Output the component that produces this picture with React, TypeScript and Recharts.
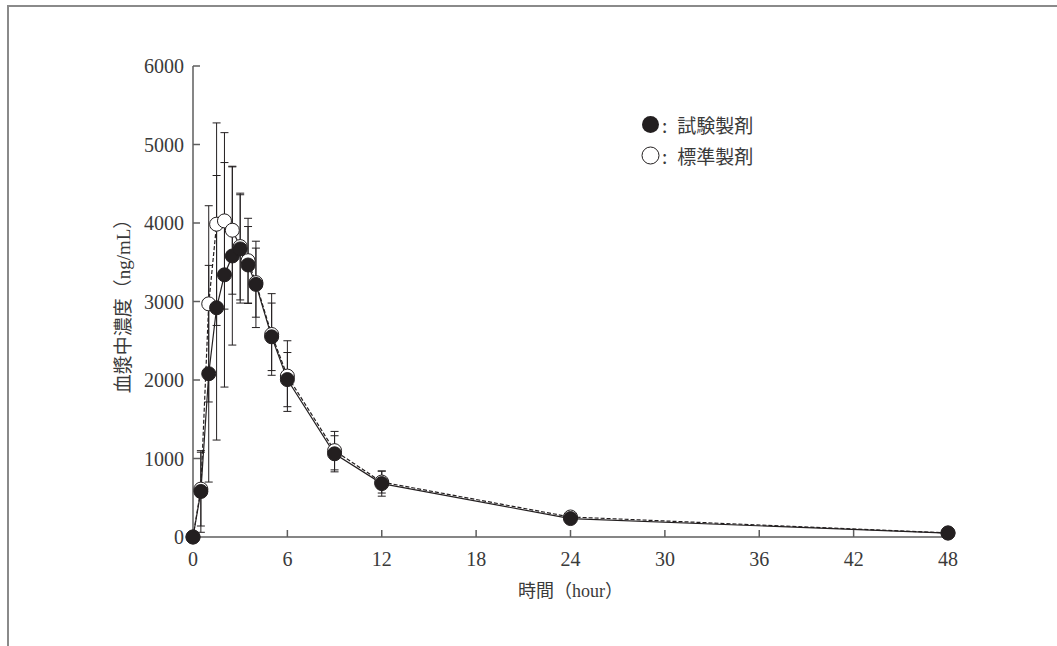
import React from 'react';
import { ComposedChart, Line, XAxis, YAxis, ErrorBar, Legend } from 'recharts';

const times = [0, 0.5, 1, 1.5, 2, 2.5, 3, 3.5, 4, 5, 6, 9, 12, 24, 48];
const testMean = [0, 580, 2080, 2920, 3340, 3580, 3670, 3465, 3218, 2550, 2005, 1060, 680, 235, 50];
const testSD = [0, 520, 1380, 1685, 1430, 1135, 690, 490, 550, 430, 345, 230, 160, 65, 15];
const stdMean = [0, 610, 2970, 3985, 4027, 3908, 3700, 3520, 3240, 2580, 2050, 1100, 700, 255, 52];
const stdSD = [0, 470, 1250, 1290, 1124, 815, 680, 540, 440, 520, 450, 245, 140, 60, 15];

const xTicks = [0, 6, 12, 18, 24, 30, 36, 42, 48];
const yTicks = [0, 1000, 2000, 3000, 4000, 5000, 6000];
const seriesNames = ['試験製剤', '標準製剤'];
const xLabel = '時間（hour）';
const yLabel = '血漿中濃度（ng/mL）';

const data = times.map((t, i) => ({
  t,
  test: testMean[i],
  testErr: testSD[i],
  std: stdMean[i],
  stdErr: stdSD[i],
}));

const INK = '#231f20';
const AXIS = '#5e5e5e';
const TEXT = '#3a3a3a';
const SERIF = "'Liberation Serif', 'Noto Sans CJK JP', serif";

const LegendBox = () => (
  <div style={{ fontFamily: "'Noto Sans CJK JP', sans-serif", color: TEXT, fontSize: 19 }}>
    {seriesNames.map((n, i) => (
      <div key={n} style={{ display: 'flex', alignItems: 'center', height: 31 }}>
        <svg width={19} height={19} style={{ marginRight: 2 }}>
          <circle cx={9.5} cy={9.5} r={8.5} fill={i === 0 ? INK : '#fff'} stroke={INK} strokeWidth={i === 0 ? 0 : 1} />
        </svg>
        <span style={{ marginRight: 10 }}>:</span>
        <span>{n}</span>
      </div>
    ))}
  </div>
);

export default function App() {
  return (
    <div style={{ position: 'absolute', left: 0, top: 0, width: 1057, height: 646, background: '#fff' }}>
      <div
        style={{
          position: 'absolute',
          left: 7,
          top: 5,
          right: 0,
          bottom: 0,
          borderTop: '2px solid #8a8a8a',
          borderLeft: '2px solid #8a8a8a',
        }}
      />
      <div style={{ position: 'absolute', left: 0, top: 0 }}>
        <ComposedChart
          width={1057}
          height={646}
          data={data}
          margin={{ top: 66, right: 109, bottom: 1, left: 53 }}
        >
          <XAxis
            dataKey="t"
            type="number"
            domain={[0, 48]}
            ticks={xTicks}
            interval={0}
            height={108}
            stroke={AXIS}
            strokeWidth={1.5}
            tickSize={-7}
            tickMargin={22}
            tick={{ fill: TEXT, fontSize: 20, fontFamily: SERIF }}
            label={{ value: xLabel, position: 'center', fill: TEXT, fontSize: 18, fontFamily: SERIF }}
          />
          <YAxis
            type="number"
            domain={[0, 6000]}
            ticks={yTicks}
            interval={0}
            width={140}
            stroke={AXIS}
            strokeWidth={1.5}
            tickSize={-7}
            tickMargin={16}
            tick={{ fill: TEXT, fontSize: 20, fontFamily: SERIF }}
            label={{ value: yLabel, angle: -90, position: 'center', fill: TEXT, fontSize: 19, fontFamily: SERIF }}
          />
          <Legend
            layout="vertical"
            align="center"
            verticalAlign="middle"
            content={() => <LegendBox />}
            wrapperStyle={{ left: 641, top: 109, width: 200 }}
          />
          <Line
            dataKey="std"
            name={seriesNames[1]}
            stroke={INK}
            strokeWidth={1.2}
            strokeDasharray="4 2"
            dot={{ r: 7, fill: '#fff', stroke: INK, strokeWidth: 1, strokeDasharray: '' }}
            activeDot={false}
            isAnimationActive={false}
          >
            <ErrorBar dataKey="stdErr" width={4} stroke={INK} strokeWidth={1} direction="y" />
          </Line>
          <Line
            dataKey="test"
            name={seriesNames[0]}
            stroke={INK}
            strokeWidth={1.2}
            dot={{ r: 7, fill: INK, stroke: INK, strokeWidth: 1 }}
            activeDot={false}
            isAnimationActive={false}
          >
            <ErrorBar dataKey="testErr" width={4} stroke={INK} strokeWidth={1} direction="y" />
          </Line>
        </ComposedChart>
      </div>
    </div>
  );
}
